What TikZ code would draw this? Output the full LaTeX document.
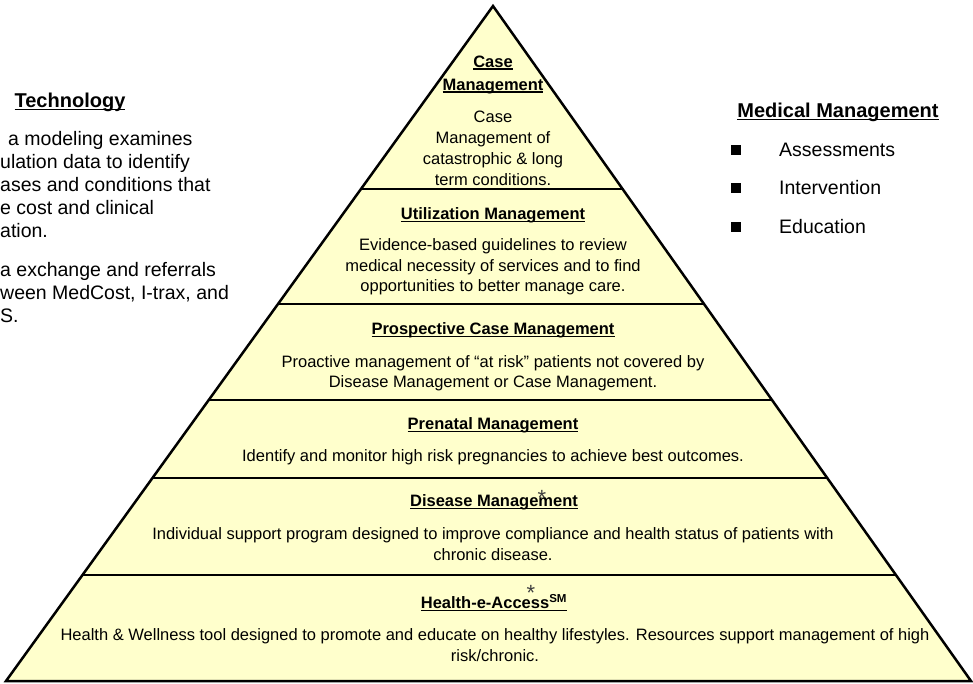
\documentclass[tikz,border=0pt]{standalone}
\usepackage{fontspec}
\setmainfont{Liberation Sans}
\usetikzlibrary{calc,positioning}
\definecolor{pyrfill}{HTML}{FFFFCC}
% underline with a rule of our own thickness
\newcommand{\undl}[1]{\setbox0\hbox{#1}\leavevmode\rlap{\rule[-2.6pt]{\wd0}{1.2pt}}\box0}

\begin{document}
\begin{tikzpicture}[
  x=1pt, y=-1pt,
  layertitle/.style={font=\fontsize{16.5}{23}\selectfont\bfseries, align=center, inner sep=0pt},
  layertext/.style={font=\fontsize{16.5}{20.5}\selectfont, align=center, inner sep=0pt},
  sidetitle/.style={font=\fontsize{20}{23}\selectfont\bfseries, inner sep=0pt},
  sidetext/.style={font=\fontsize{19.5}{23}\selectfont, align=left, inner sep=0pt},
  bullet/.style={fill=black, minimum size=10pt, inner sep=0pt},
  star/.style={font=\fontsize{22}{22}\selectfont, text=black!75, inner sep=0pt},
  divider/.style={line width=1.2pt}
]
\useasboundingbox (0,0) rectangle (973,683);

% Pyramid
\coordinate (apex) at (493,6);
\coordinate (bl) at (6,681);
\coordinate (br) at (971,681);
\fill[pyrfill] (bl) -- (apex) -- (br) -- cycle;
\foreach \t in {0.2711,0.4415,0.5837,0.6993,0.8430}
  \draw[divider] ($(apex)!\t!(bl)$) -- ($(apex)!\t!(br)$);
\draw[line width=2.5pt] (bl) -- (apex) -- (br) -- cycle;

% Layers, top to bottom
\node[layertitle] (casetitle) at (493,74.5) {\undl{Case}\\\undl{Management}};
\node[layertext, font=\fontsize{16.5}{21}\selectfont] (casetext) at (493,148.5) {Case\\Management of\\catastrophic \& long\\term conditions.};

\node[layertitle] (utiltitle) at (493,215) {\undl{Utilization Management}};
\node[layertext] (utiltext) at (493,267) {Evidence-based guidelines to review\\medical necessity of services and to find\\opportunities to better manage care.};

\node[layertitle] (prosptitle) at (493,330) {\undl{Prospective Case Management}};
\node[layertext] (prosptext) at (493,373) {Proactive management of “at risk” patients not covered by\\Disease Management or Case Management.};

\node[layertitle] (prenataltitle) at (493,425) {\undl{Prenatal Management}};
\node[layertext] (prenataltext) at (493,457) {Identify and monitor high risk pregnancies to achieve best outcomes.};

\node[layertitle] (diseasetitle) at (494,502) {\undl{Disease Management}};
\node[star] (diseasestar) at (542,498) {*};
\node[layertext] (diseasetext) at (493,544) {Individual support program designed to improve compliance and health status of patients with\\chronic disease.};

\node[layertitle] (hxstitle) at (494,603) {\undl{Health-e-Access\textsuperscript{SM}}};
\node[star] (hxsstar) at (531,593) {*};
\node[layertext] (hxstext) at (495,645) {Health \& Wellness tool designed to promote and educate on healthy lifestyles. Resources support management of high\\risk/chronic.};

% Technology
\node[sidetitle] (techtitle) at (70,102) {\undl{Technology}};
\node[sidetext, anchor=north west] (techtext) at (0,131) {\hspace*{8pt}a modeling examines\\ulation data to identify\\ases and conditions that\\e cost and clinical\\ation.};
\node[sidetext, anchor=north west] (techtext2) at (0,262) {a exchange and referrals\\ween MedCost, I-trax, and\\S.};

% Medical management
\node[sidetitle] (medtitle) at (838,112) {\undl{Medical Management}};
\foreach \lbl/\yy/\nm in {Assessments/150/assess, Intervention/188/interv, Education/227/educ} {
  \node[bullet] (\nm bul) at (736,\yy) {};
  \node[sidetext, anchor=west] (\nm) at (779,\yy) {\lbl};
}
\end{tikzpicture}
\end{document}
